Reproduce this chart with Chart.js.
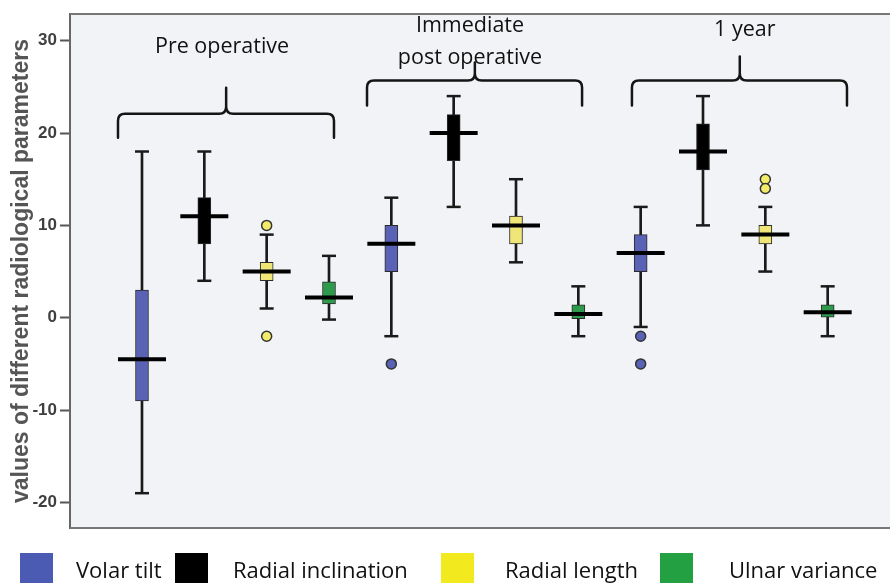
<!DOCTYPE html>
<html>
<head>
<meta charset="utf-8">
<title>Radiological parameters</title>
<script src="https://cdn.jsdelivr.net/npm/chart.js@4.4.1/dist/chart.umd.min.js"></script>
<style>
    html, body { margin: 0; padding: 0; background: #fff; overflow: hidden; }
    #wrap { width: 890px; height: 583px; position: relative; overflow: hidden; }
    #box-chart { display: block; }
</style>
</head>
<body>
<div id="wrap"><canvas id="box-chart" width="890" height="583"></canvas></div>
<script>
// time points and the four parameters (one box per parameter per time point)
const timepoints = ['Pre operative', 'Immediate post operative', '1 year'];
const parameters = ['Volar tilt', 'Radial inclination', 'Radial length', 'Ulnar variance'];
const yTicks = [-20, -10, 0, 10, 20, 30];

// [whisker low, Q1, median, Q3, whisker high] for each time point
const volarTilt     = [[-19, -9, -4.5, 3, 18], [-2, 5, 8, 10, 13], [-1, 5, 7, 9, 12]];
const radialIncl    = [[4, 8, 11, 13, 18], [12, 17, 20, 22, 24], [10, 16, 18, 21, 24]];
const radialLength  = [[1, 4, 5, 6, 9], [6, 8, 10, 11, 15], [5, 8, 9, 10, 12]];
const ulnarVariance = [[-0.2, 1.5, 2.2, 3.9, 6.7], [-2, -0.1, 0.4, 1.4, 3.4], [-2, 0, 0.6, 1.4, 3.4]];

// outliers for each time point
const volarTiltOut     = [[], [-5], [-2, -5]];
const radialInclOut    = [[], [], []];
const radialLengthOut  = [[10, -2], [], [15, 14]];
const ulnarVarianceOut = [[], [], []];

const allStats = [volarTilt, radialIncl, radialLength, ulnarVariance];
const allOut = [volarTiltOut, radialInclOut, radialLengthOut, ulnarVarianceOut];
const boxColors = ['#5a62b6', '#000000', '#efe677', '#2e9a4b'];
const outColors = ['#5a62b6', '#000000', '#f3ec6a', '#2e9a4b'];
const legendColors = ['#4b5ab2', '#000000', '#f2ea1e', '#22a042'];

// x position of a box: 4 slots per time point
function xPos(t, p) { return t * 4 + p + 1; }

const whiskers = [], caps = [], medians = [];
const datasets = [];

allStats.forEach((stats, p) => {
    const boxes = [], outs = [];
    stats.forEach((s, t) => {
        const x = xPos(t, p);
        whiskers.push({x: x, y: [s[0], s[4]]});
        caps.push({x: x, y: s[0]}, {x: x, y: s[4]});
        medians.push({x: x, y: s[2]});
        boxes.push({x: x, y: [s[1], s[3]]});
        allOut[p][t].forEach(v => outs.push({x: x, y: v}));
    });
    datasets.push({
        type: 'bar',
        label: parameters[p],
        data: boxes,
        backgroundColor: boxColors[p],
        borderColor: '#2a2a2a',
        borderWidth: 1,
        borderSkipped: false,
        barThickness: 13,
        grouped: false,
        order: 5
    });
    if (outs.length) {
        datasets.push({
            type: 'scatter',
            label: parameters[p] + ' outliers',
            data: outs,
            pointStyle: 'circle',
            radius: 5,
            backgroundColor: outColors[p],
            borderColor: '#333',
            borderWidth: 1.5,
            order: 2
        });
    }
});

datasets.push({
    type: 'bar',
    label: 'whiskers',
    data: whiskers,
    backgroundColor: '#1a1a1a',
    barThickness: 2,
    grouped: false,
    order: 10
});
datasets.push({
    type: 'scatter',
    label: 'caps',
    data: caps,
    pointStyle: 'line',
    radius: 7,
    borderWidth: 2.5,
    borderColor: '#1a1a1a',
    order: 3
});
datasets.push({
    type: 'scatter',
    label: 'medians',
    data: medians,
    pointStyle: 'line',
    radius: 24,
    borderWidth: 4,
    borderColor: '#000',
    order: 1
});

// plot background + top / bottom frame lines
const framePlugin = {
    id: 'frame',
    beforeDraw(chart) {
        const {ctx, chartArea: a} = chart;
        ctx.save();
        ctx.fillStyle = '#f1f3f6';
        ctx.fillRect(a.left, a.top, a.right - a.left, a.bottom - a.top);
        ctx.restore();
    },
    afterDraw(chart) {
        const {ctx, chartArea: a} = chart;
        ctx.save();
        ctx.strokeStyle = '#777';
        ctx.lineWidth = 2;
        ctx.beginPath();
        ctx.moveTo(a.left, a.top);
        ctx.lineTo(a.right, a.top);
        ctx.moveTo(a.left, a.bottom);
        ctx.lineTo(a.right, a.bottom);
        ctx.stroke();
        ctx.restore();
    }
};

// curly brackets + time point labels, placed in data units
const braces = [
    {x0: 0.615, x1: 4.08, xm: 2.35, yEnd: 19.5, yBar: 22.1, yTip: 24.9,
     labels: [{text: timepoints[0], x: 2.284, y: 28.7}]},
    {x0: 4.61, x1: 8.06, xm: 6.34, yEnd: 22.97, yBar: 25.68, yTip: 27.63,
     labels: [{text: 'Immediate', x: 6.262, y: 30.9}, {text: 'post operative', x: 6.262, y: 27.5}]},
    {x0: 8.86, x1: 12.31, xm: 10.59, yEnd: 22.97, yBar: 25.68, yTip: 28.28,
     labels: [{text: timepoints[2], x: 10.67, y: 30.55}]}
];

const bracePlugin = {
    id: 'braces',
    afterDatasetsDraw(chart) {
        const ctx = chart.ctx;
        const xs = chart.scales.x, ys = chart.scales.y;
        ctx.save();
        ctx.strokeStyle = '#151515';
        ctx.lineWidth = 2.5;
        ctx.lineCap = 'round';
        braces.forEach(b => {
            const L = xs.getPixelForValue(b.x0), R = xs.getPixelForValue(b.x1), M = xs.getPixelForValue(b.xm);
            const E = ys.getPixelForValue(b.yEnd), H = ys.getPixelForValue(b.yBar), T = ys.getPixelForValue(b.yTip);
            const r = 7;
            ctx.beginPath();
            ctx.moveTo(L, E);
            ctx.lineTo(L, H + r);
            ctx.quadraticCurveTo(L, H, L + r, H);
            ctx.lineTo(M - r, H);
            ctx.quadraticCurveTo(M, H, M, H - r);
            ctx.lineTo(M, T);
            ctx.moveTo(M, H - r);
            ctx.quadraticCurveTo(M, H, M + r, H);
            ctx.lineTo(R - r, H);
            ctx.quadraticCurveTo(R, H, R, H + r);
            ctx.lineTo(R, E);
            ctx.stroke();

            ctx.fillStyle = '#111';
            ctx.font = '21.5px "Open Sans"';
            ctx.textAlign = 'center';
            ctx.textBaseline = 'alphabetic';
            b.labels.forEach(l => {
                ctx.fillText(l.text, xs.getPixelForValue(l.x), ys.getPixelForValue(l.y));
            });
        });
        ctx.restore();
    }
};

// legend along the bottom
const legendItems = [
    {box: 20, text: 76},
    {box: 175, text: 233},
    {box: 441, text: 505},
    {box: 660, text: 729}
];

const legendPlugin = {
    id: 'bottomLegend',
    afterDraw(chart) {
        const ctx = chart.ctx;
        ctx.save();
        ctx.font = '22px "Open Sans"';
        ctx.textBaseline = 'alphabetic';
        ctx.textAlign = 'left';
        legendItems.forEach((it, i) => {
            ctx.fillStyle = legendColors[i];
            ctx.fillRect(it.box, 553, 33, 32);
            ctx.fillStyle = '#111';
            ctx.fillText(parameters[i], it.text, 578);
        });
        ctx.restore();
    }
};

const config = {
    type: 'bar',
    data: { datasets: datasets },
    options: {
        responsive: false,
        animation: false,
        events: [],
        layout: { autoPadding: false, padding: { top: 14, bottom: 55, left: 0, right: 0 } },
        plugins: {
            legend: { display: false },
            tooltip: { enabled: false }
        },
        scales: {
            x: {
                type: 'linear',
                min: -0.155,
                max: 13.0,
                offset: false,
                display: false
            },
            y: {
                type: 'linear',
                min: -22.77,
                max: 32.89,
                bounds: 'data',
                afterBuildTicks: s => { s.ticks = yTicks.map(v => ({value: v})); },
                afterFit: s => { s.width = 70; },
                ticks: {
                    color: '#3f3f3f',
                    padding: 3,
                    font: { family: 'Liberation Sans', size: 17, weight: 'bold' }
                },
                grid: {
                    drawOnChartArea: false,
                    drawTicks: true,
                    tickLength: 10,
                    tickWidth: 2,
                    tickColor: '#555'
                },
                border: { display: true, color: '#666', width: 2 },
                title: {
                    display: true,
                    text: 'values of different radiological parameters',
                    color: '#555',
                    font: { family: 'Liberation Sans', size: 23, weight: 'bold' },
                    padding: { top: 8, bottom: 0 }
                }
            }
        }
    },
    plugins: [framePlugin, bracePlugin, legendPlugin]
};

const boxChart = new Chart(document.getElementById('box-chart'), config);
</script>
</body>
</html>
